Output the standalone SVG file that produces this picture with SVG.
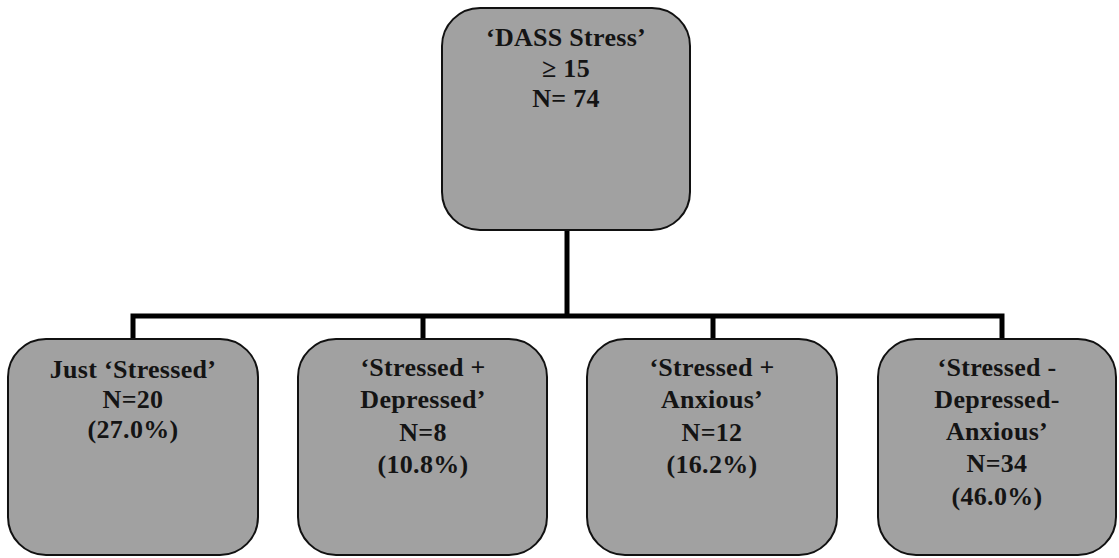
<svg xmlns="http://www.w3.org/2000/svg" width="1119" height="558" viewBox="0 0 1119 558">
  <style>
    .box { fill: #a1a1a1; stroke: #111; stroke-width: 2; }
    .lbl { font-family: "Liberation Serif", "DejaVu Serif", serif; font-weight: bold; font-size: 26px; letter-spacing: 0.3px; fill: #141414; text-anchor: middle; }
    .wire { fill: none; stroke: #000; stroke-width: 5; }
  </style>
  <rect width="1119" height="558" fill="#fff"/>

  <!-- tree connectors -->
  <g id="connectors">
    <path class="wire" d="M567,230 V316"/>
    <path class="wire" d="M133,339 V316 H1002 V339"/>
    <path class="wire" d="M423,316 V339"/>
    <path class="wire" d="M713,316 V339"/>
  </g>

  <g id="root">
    <rect class="box" x="442" y="8" width="248" height="222" rx="38"/>
    <text class="lbl" x="566" y="46">‘DASS Stress’</text>
    <text class="lbl" x="566" y="77">≥ 15</text>
    <text class="lbl" x="566" y="107">N= 74</text>
  </g>

  <g id="just-stressed">
    <rect class="box" x="8" y="339" width="250" height="216" rx="38"/>
    <text class="lbl" x="133" y="378">Just ‘Stressed’</text>
    <text class="lbl" x="133" y="408">N=20</text>
    <text class="lbl" x="133" y="438">(27.0%)</text>
  </g>

  <g id="stressed-depressed">
    <rect class="box" x="298" y="339" width="249" height="216" rx="38"/>
    <text class="lbl" x="423" y="376">‘Stressed +</text>
    <text class="lbl" x="423" y="408">Depressed’</text>
    <text class="lbl" x="423" y="441">N=8</text>
    <text class="lbl" x="423" y="473">(10.8%)</text>
  </g>

  <g id="stressed-anxious">
    <rect class="box" x="587" y="339" width="250" height="216" rx="38"/>
    <text class="lbl" x="712" y="376">‘Stressed +</text>
    <text class="lbl" x="712" y="408">Anxious’</text>
    <text class="lbl" x="712" y="441">N=12</text>
    <text class="lbl" x="712" y="473">(16.2%)</text>
  </g>

  <g id="stressed-depressed-anxious">
    <rect class="box" x="878" y="339" width="238" height="216" rx="38"/>
    <text class="lbl" x="997" y="376">‘Stressed -</text>
    <text class="lbl" x="997" y="408">Depressed-</text>
    <text class="lbl" x="997" y="440">Anxious’</text>
    <text class="lbl" x="997" y="472">N=34</text>
    <text class="lbl" x="997" y="505">(46.0%)</text>
  </g>
</svg>
